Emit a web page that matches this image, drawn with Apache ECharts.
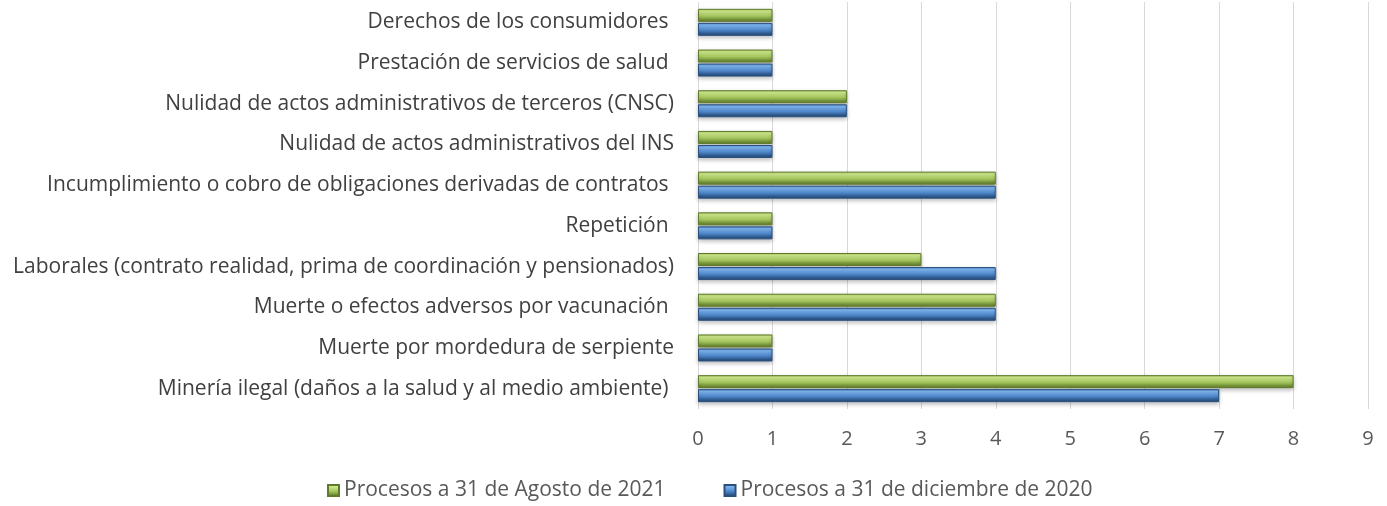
<!DOCTYPE html>
<html style="height: 100%">
<head>
<meta charset="utf-8">
<script src="https://cdn.jsdelivr.net/npm/echarts@6/dist/echarts.min.js"></script>
</head>
<body style="height: 100%; margin: 0; background: #fff">
<div id="chart" style="width: 1387px; height: 506px;"></div>
<script type="text/javascript">
// categories, bottom to top
var categories = [
    'Minería ilegal (daños a la salud y al medio ambiente) ',
    'Muerte por mordedura de serpiente',
    'Muerte o efectos adversos por vacunación ',
    'Laborales (contrato realidad, prima de coordinación y pensionados)',
    'Repetición ',
    'Incumplimiento o cobro de obligaciones derivadas de contratos ',
    'Nulidad de actos administrativos del INS',
    'Nulidad de actos administrativos de terceros (CNSC)',
    'Prestación de servicios de salud ',
    'Derechos de los consumidores '
];
var agosto2021 = [8, 1, 4, 3, 1, 4, 1, 2, 1, 1];
var diciembre2020 = [7, 1, 4, 4, 1, 4, 1, 2, 1, 1];
var xTicks = [0, 1, 2, 3, 4, 5, 6, 7, 8, 9];

function bevel(light, mid, dark) {
    return new echarts.graphic.LinearGradient(0, 0, 0, 1, [
        {offset: 0, color: mid},
        {offset: 0.18, color: light},
        {offset: 0.55, color: mid},
        {offset: 0.85, color: dark},
        {offset: 1, color: dark}
    ]);
}
var greenFill = bevel('#cfe98c', '#a5c75e', '#6f8c35');
var blueFill = bevel('#7fb6f0', '#4f88cc', '#2c5587');

var myChart = echarts.init(document.getElementById('chart'));
var option = {
    animation: false,
    textStyle: {fontFamily: 'Open Sans'},
    grid: {left: 698, right: 19, top: 2, bottom: 97, containLabel: false},
    legend: {
        bottom: 0,
        left: 322,
        itemWidth: 11,
        itemHeight: 11,
        itemGap: 58,
        textStyle: {fontSize: 21, color: '#595959', fontFamily: 'Open Sans'},
        data: [
            {name: 'Procesos a 31 de Agosto de 2021', icon: 'rect'},
            {name: 'Procesos a 31 de diciembre de 2020', icon: 'rect'}
        ]
    },
    xAxis: {
        type: 'value',
        min: 0,
        max: 9,
        interval: 1,
        axisLine: {show: false},
        axisTick: {show: false},
        axisLabel: {
            fontSize: 20, color: '#595959', margin: 20,
            formatter: function (v) { return xTicks.indexOf(v) >= 0 ? String(v) : ''; }
        },
        splitLine: {lineStyle: {color: '#d9d9d9', width: 1}}
    },
    yAxis: {
        type: 'category',
        data: categories,
        axisLine: {show: false},
        axisTick: {show: false},
        axisLabel: {fontSize: 21, color: '#404040', margin: 24}
    },
    series: [
        {
            name: 'Procesos a 31 de Agosto de 2021',
            type: 'bar',
            barWidth: 13,
            barGap: '8%',
            barCategoryGap: '36%',
            data: agosto2021,
            itemStyle: {
                color: greenFill, borderColor: '#5f7a2c', borderWidth: 1,
                shadowBlur: 4, shadowColor: 'rgba(0,0,0,0.25)', shadowOffsetY: 2
            }
        },
        {
            name: 'Procesos a 31 de diciembre de 2020',
            type: 'bar',
            barWidth: 13,
            data: diciembre2020,
            itemStyle: {
                color: blueFill, borderColor: '#2a4f7c', borderWidth: 1,
                shadowBlur: 4, shadowColor: 'rgba(0,0,0,0.25)', shadowOffsetY: 2
            }
        }
    ]
};
myChart.setOption(option, true);
</script>
</body>
</html>
